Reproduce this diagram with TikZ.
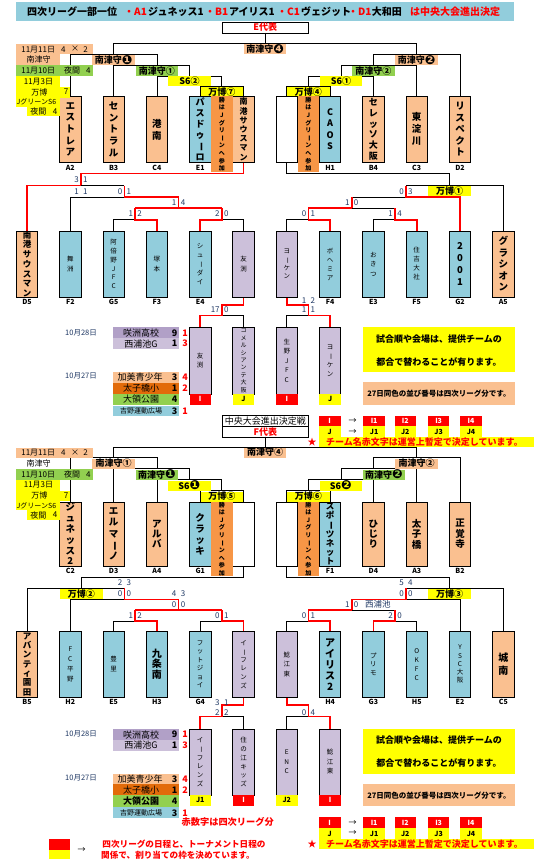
\documentclass[tikz,border=0pt]{standalone}
\usepackage{fontspec}
\usepackage{graphicx}
\setmainfont{Noto Sans CJK JP}
\newfontfamily\dv{DejaVu Sans}
\definecolor{peach}{HTML}{FAC090}
\definecolor{lblue}{HTML}{92CDDC}
\definecolor{lpurp}{HTML}{CCC0DA}
\definecolor{dpurp}{HTML}{B1A0C7}
\definecolor{orng}{HTML}{F79646}
\definecolor{dorng}{HTML}{E26B0A}
\definecolor{grn}{HTML}{92D050}
\definecolor{yel}{HTML}{FFFF00}
\definecolor{navy}{HTML}{1F3864}
\newcommand\fz[2]{\fontsize{#1}{#2}\selectfont}
\newcommand\vb{\rotatebox[origin=c]{-90}{ー}}
\newcommand\bn[1]{\raisebox{-0.4pt}{\dv\bfseries\fontsize{12.5}{9}\selectfont #1}}
\newcommand\tb[7]{\node[tm,fill=#5,minimum height=#4pt,font=#6] (#1) at (#2,#3) {#7};}
\newcommand\lb[5]{\node[lbl,fill=#4] (#1) at (#2,#3) {#5};}
\newcommand\sco[5]{\node[sc,anchor=east] (#1l) at (#2-2,#3) {#4};\node[sc,anchor=west] (#1r) at (#2+2,#3) {#5};}
\newcommand\tg[8]{\fill[#6] (#2,#4) rectangle (#3,#5); \node[tgt,text=#7] (#1) at ({(#2+#3)/2},{(#4+#5)/2}) {#8};}
\newcommand\topbracket[1]{%
 \draw[bk] (265.15,33) -- (265.15,43.5);
 \draw[bk] (113.6,54.3) -- (113.6,43.5) -- (416.7,43.5) -- (416.7,54.3);
 \draw[bk] (70.3,#1) -- (70.3,54.3) -- (156.9,54.3) -- (156.9,65.1);
 \draw[bk] (113.6,#1) -- (113.6,65.1) -- (189.4,65.1) -- (189.4,75.9);
 \draw[bk] (156.9,#1) -- (156.9,75.9) -- (221.85,75.9) -- (221.85,86.7);
 \draw[bk] (200.2,#1) -- (200.2,86.7) -- (243.5,86.7) -- (243.5,#1);
 \draw[bk] (460,#1) -- (460,54.3) -- (373.4,54.3) -- (373.4,65.1);
 \draw[bk] (416.7,#1) -- (416.7,65.1) -- (340.9,65.1) -- (340.9,75.9);
 \draw[bk] (373.4,#1) -- (373.4,75.9) -- (308.45,75.9) -- (308.45,86.7);
 \draw[bk] (330.1,#1) -- (330.1,86.7) -- (286.8,86.7) -- (286.8,#1);
}
\newcommand\datetable[2]{%
 \fill[peach] (16,44) rectangle (92.5,54.3);
 \node[dt] (#1d1) at (38.2,49.2) {11月11日};
 \node[dt] (#1d2) at (63.4,49.2) {4};
 \node[dt] (#1d3) at (75,49.2) {×};
 \node[dt] (#1d4) at (85.6,49.2) {2};
 \fill[#2] (16,54.3) rectangle (60,65.1);
 \node[dt] (#1d5) at (38.5,59.8) {南津守};
 \fill[grn] (16,65.1) rectangle (92.5,75.9);
 \node[dt] (#1d6) at (38.2,70.5) {11月10日};
 \node[dt] (#1d7) at (72,70.5) {夜間};
 \node[dt] (#1d8) at (88.4,70.5) {4};
 \fill[yel] (16,75.9) rectangle (60,86.7);
 \node[dt] (#1d9) at (38.5,81.3) {11月3日};
 \fill[yel] (16,86.7) rectangle (70,97.5);
 \node[dt] (#1d10) at (39.4,92.1) {万博};
 \node[dt] (#1d11) at (66,92.1) {7};
 \fill[yel] (16,97.5) rectangle (59.6,106.5);
 \node[dt,font=\fz{7}{7},anchor=west] (#1d12) at (16.5,102) {JグリーンS6};
 \fill[yel] (27,106.5) rectangle (59.6,116);
 \node[dt] (#1d13) at (38.5,111.2) {夜間};
 \node[dt] (#1d14) at (55,111.2) {4};
}
\newcommand\lowtable[2]{%
 \node[dtn] (#1w1) at (81,332.5) {10月28日};
 \fill[dpurp] (113,327.4) rectangle (178.8,338.4);
 \node[tt] (#1w2) at (141,332.9) {咲洲高校};
 \node[tn] (#1w3) at (174.6,332.9) {9};
 \node[tr] (#1w4) at (185,332.9) {1};
 \fill[lpurp] (113,338.4) rectangle (178.8,349);
 \node[tt] (#1w5) at (141,343.7) {西浦池G};
 \node[tn] (#1w6) at (174.6,343.7) {1};
 \node[tr] (#1w7) at (185,343.7) {3};
 \node[dtn] (#1w8) at (81,376) {10月27日};
 \fill[peach] (113,372) rectangle (178.8,382.5);
 \node[tt] (#1w9) at (140,377.2) {加美青少年};
 \node[tn] (#1w10) at (174.6,377.2) {3};
 \node[tr] (#1w11) at (185,377.2) {4};
 \fill[dorng] (113,382.5) rectangle (178.8,393.5);
 \node[tt] (#1w12) at (141,388) {太子橋小};
 \node[tn] (#1w13) at (174.6,388) {1};
 \node[tr] (#1w14) at (185,388) {2};
 \fill[grn] (113,393.5) rectangle (178.8,405);
 \node[tt,font=#2] (#1w15) at (141,399.2) {大領公園};
 \node[tn] (#1w16) at (174.6,399.2) {4};
 \fill[lblue] (113,405.5) rectangle (178.8,416.4);
 \node[tt,font=\fz{7}{7}] (#1w17) at (141,411) {吉野運動広場};
 \node[tn] (#1w18) at (174.6,411) {3};
 \node[tr] (#1w19) at (185,411) {1};
}
\newcommand\notesblock[1]{%
 \fill[yel] (363,327.4) rectangle (514.7,372);
 \node[nt] (#1n1) at (439,338.6) {試合順や会場は、提供チームの};
 \node[nt] (#1n2) at (439,361.5) {都合で替わることが有ります。};
 \fill[peach] (363,382) rectangle (514.7,404.5);
 \node[inner sep=0pt,font=\fz{7.5}{7.5}\bfseries] (#1n3) at (439,393.3) {27日同色の並び番号は四次リーグ分です。};
 \tg{#1ti}{318.5}{340.8}{415.5}{426.4}{red}{white}{I}
 \node[inner sep=0pt,font=\fz{8}{8}] (#1ar1) at (352.7,421) {→};
 \tg{#1ti1}{363}{385.3}{415.5}{426.4}{red}{white}{I1}
 \tg{#1ti2}{394.5}{416}{415.5}{426.4}{red}{white}{I2}
 \tg{#1ti3}{428}{449.3}{415.5}{426.4}{red}{white}{I3}
 \tg{#1ti4}{460}{482}{415.5}{426.4}{red}{white}{I4}
 \tg{#1tj}{318.5}{340.8}{426.4}{437}{yel}{black}{J}
 \node[inner sep=0pt,font=\fz{8}{8}] (#1ar2) at (352.7,431.7) {→};
 \tg{#1tj1}{363}{385.3}{426.4}{437}{yel}{black}{J1}
 \tg{#1tj2}{394.5}{416}{426.4}{437}{yel}{black}{J2}
 \tg{#1tj3}{428}{449.3}{426.4}{437}{yel}{black}{J3}
 \tg{#1tj4}{460}{482}{426.4}{437}{yel}{black}{J4}
 \fill[yel] (318.5,437) rectangle (534,447);
 \node[inner sep=0pt,font=\fz{9}{9}\bfseries,text=red] (#1star) at (312,442) {★};
 \node[inner sep=0pt,font=\fz{9}{9}\bfseries,text=red,anchor=west] (#1n4) at (326,442) {チーム名赤文字は運営上暫定で決定しています。};
}
\begin{document}
\begin{tikzpicture}[x=1pt,y=-1pt,
 bk/.style={line width=0.8pt,black},
 rd/.style={line width=1.7pt,red},
 tm/.style={draw,line width=0.8pt,inner sep=0pt,minimum width=21.4pt,align=center},
 lbl/.style={inner sep=0pt,minimum width=42.6pt,minimum height=10pt,font=\fz{9}{9}\bfseries},
 sc/.style={inner sep=0pt,font=\fz{8}{8},text=navy},
 cd/.style={inner sep=0pt,font=\fz{7}{7}\bfseries},
 dt/.style={inner sep=0pt,font=\fz{8}{8}},
 dtn/.style={inner sep=0pt,font=\fz{7.5}{7.5},text=navy},
 tt/.style={inner sep=0pt,font=\fz{9}{9}},
 tn/.style={inner sep=0pt,font=\fz{9}{9}\bfseries},
 tr/.style={inner sep=0pt,font=\fz{9}{9}\bfseries,text=red},
 hd/.style={inner sep=0pt,font=\fz{10}{10}\bfseries,anchor=west},
 nt/.style={inner sep=0pt,font=\fz{9}{9}\bfseries},
 tgt/.style={inner sep=0pt,font=\fz{7}{7}\bfseries},
 obar/.style={fill=orng,inner sep=0pt,minimum width=21.4pt,align=center,font=\fz{6}{7.6}\bfseries}]
\useasboundingbox (0,0) rectangle (537,859);
\fill[white] (0,0) rectangle (537,859);
% header
\fill[lblue] (16,2) rectangle (514,21);
\node[hd] (h1) at (27,11.5) {四次リーグ一部一位};
\node[hd,text=red] (h2) at (124,11.5) {・A1};
\node[hd] (h3) at (148,11.5) {ジュネッス1};
\node[hd,text=red] (h4) at (205,11.5) {・B1};
\node[hd] (h5) at (229,11.5) {アイリス1};
\node[hd,text=red] (h6) at (277,11.5) {・C1};
\node[hd] (h7) at (301,11.5) {ヴェジット};
\node[hd,text=red] (h8) at (348,11.5) {・D1};
\node[hd] (h9) at (371.6,11.5) {大和田};
\node[hd,text=red] (h10) at (410,11.5) {は中央大会進出決定};
% E box
\draw[bk] (222.3,22) rectangle (308.3,33);
\node[inner sep=0pt,font=\fz{9}{9}\bfseries,text=red] (ed) at (265.3,27.5) {E代表};
% ===== E lines
\topbracket{96.2}
\draw[rd] (243.5,162.6) -- (243.5,173.5) -- (81,173.5) -- (81,185.5) -- (27,185.5) -- (27,231);
\draw[bk] (81,185.5) -- (124.4,185.5);
\draw[bk] (70.3,231) -- (70.3,197) -- (124.4,197);
\draw[rd] (124.4,185.5) -- (124.4,197) -- (178.55,197) -- (178.55,208);
\draw[rd] (135.25,208) -- (221.85,208);
\draw[bk] (113.6,231) -- (113.6,219.7) -- (135.25,219.7);
\draw[rd] (135.25,208) -- (135.25,219.7) -- (156.9,219.7) -- (156.9,231);
\draw[bk] (221.85,219.7) -- (243.5,219.7) -- (243.5,231);
\draw[rd] (221.85,208) -- (221.85,219.7) -- (200.2,219.7) -- (200.2,231);
\draw[bk] (286.8,162.6) -- (286.8,173.5) -- (449,173.5) -- (449,185.5);
\draw[bk] (405.9,185.5) -- (503.3,185.5) -- (503.3,231);
\draw[bk] (351.75,197) -- (405.9,197);
\draw[rd] (405.9,185.5) -- (405.9,197) -- (460,197) -- (460,231);
\draw[rd] (351.75,197) -- (351.75,208);
\draw[bk] (351.75,208) -- (395.05,208);
\draw[rd] (308.45,208) -- (351.75,208);
\draw[bk] (286.8,231) -- (286.8,219.7) -- (308.45,219.7);
\draw[rd] (308.45,208) -- (308.45,219.7) -- (330.1,219.7) -- (330.1,231);
\draw[bk] (373.4,231) -- (373.4,219.7) -- (395.05,219.7);
\draw[rd] (395.05,208) -- (395.05,219.7) -- (416.7,219.7) -- (416.7,231);
\draw[bk] (221.85,315.4) -- (243.5,315.4) -- (243.5,327.4);
\draw[rd] (243.5,297) -- (243.5,305) -- (221.85,305) -- (221.85,315.4) -- (200.2,315.4) -- (200.2,327.4);
\draw[bk] (308.45,315.4) -- (286.8,315.4) -- (286.8,327.4);
\draw[rd] (286.8,297) -- (286.8,305) -- (308.45,305) -- (308.45,315.4) -- (330.1,315.4) -- (330.1,327.4);
% ===== F lines
\begin{scope}[shift={(0,403.5)}]\topbracket{98.5}\end{scope}
\draw[bk] (243.5,566) -- (243.5,577) -- (81,577) -- (81,588.4);
\draw[bk] (27,631.5) -- (27,588.4) -- (124.4,588.4);
\draw[bk] (70.3,631.5) -- (70.3,599.4) -- (124.4,599.4);
\draw[rd] (124.4,588.4) -- (124.4,599.4) -- (178.55,599.4) -- (178.55,610.2);
\draw[rd] (135.25,610.2) -- (221.85,610.2);
\draw[bk] (113.6,631.5) -- (113.6,621) -- (135.25,621);
\draw[rd] (135.25,610.2) -- (135.25,621) -- (156.9,621) -- (156.9,631.5);
\draw[bk] (200.2,631.5) -- (200.2,621) -- (221.85,621);
\draw[rd] (221.85,610.2) -- (221.85,621) -- (243.5,621) -- (243.5,631.5);
\draw[bk] (286.8,566) -- (286.8,577) -- (449,577) -- (449,588.4);
\draw[bk] (503.3,631.5) -- (503.3,588.4) -- (405.9,588.4);
\draw[bk] (405.9,599.4) -- (460,599.4) -- (460,631.5);
\draw[rd] (405.9,588.4) -- (405.9,599.4) -- (351.75,599.4) -- (351.75,610.2);
\draw[bk] (351.75,610.2) -- (395.05,610.2);
\draw[rd] (308.45,610.2) -- (351.75,610.2);
\draw[bk] (286.8,631.5) -- (286.8,621) -- (308.45,621);
\draw[rd] (308.45,610.2) -- (308.45,621) -- (330.1,621) -- (330.1,631.5);
\draw[bk] (395.05,621) -- (416.7,621) -- (416.7,631.5);
\draw[rd] (395.05,610.2) -- (395.05,621) -- (373.4,621) -- (373.4,631.5);
\draw[bk] (221.85,716.4) -- (243.5,716.4) -- (243.5,729);
\draw[rd] (243.5,697) -- (243.5,705) -- (221.85,705) -- (221.85,716.4) -- (200.2,716.4) -- (200.2,729);
\draw[bk] (308.45,716.4) -- (286.8,716.4) -- (286.8,729);
\draw[rd] (286.8,697) -- (286.8,705) -- (308.45,705) -- (308.45,716.4) -- (330.1,716.4) -- (330.1,729);
% ===== E labels
\lb{el1}{265.15}{49}{peach}{南津守\bn{❹}}
\lb{el2}{113.6}{59.8}{peach}{南津守\bn{❶}}
\lb{el3}{416.7}{59.8}{peach}{南津守\bn{❷}}
\lb{el4}{156.9}{70.6}{grn}{南津守①}
\lb{el5}{373.4}{70.6}{grn}{南津守②}
\lb{el6}{189.4}{81.4}{yel}{S6②}
\lb{el7}{340.9}{81.4}{yel}{S6①}
\lb{el8}{221.85}{91.6}{yel}{万博⑦}
\lb{el9}{308.45}{91.6}{yel}{万博④}
\lb{el10}{449.5}{191.3}{yel}{万博①}
% ===== F labels
\lb{fl1}{265.15}{452.5}{peach}{南津守④}
\lb{fl2}{113.6}{463.5}{peach}{南津守①}
\lb{fl3}{416.7}{463.5}{peach}{南津守②}
\lb{fl4}{156.9}{474.5}{grn}{南津守\bn{❶}}
\lb{fl5}{384}{474.5}{grn}{南津守\bn{❷}}
\lb{fl6}{189.4}{485.5}{yel}{S6\bn{❶}}
\lb{fl7}{340.9}{485.5}{yel}{S6\bn{❷}}
\lb{fl8}{221.85}{496.5}{yel}{万博⑤}
\lb{fl9}{308.45}{496.5}{yel}{万博⑥}
\lb{fl10}{81.3}{594}{yel}{万博②}
\lb{fl11}{449.5}{594}{yel}{万博③}
% ===== E top row boxes
\tb{a2}{70.3}{129.4}{66.4}{peach}{\fz{9.5}{11.55}\bfseries}{エ\\ス\\ト\\レ\\ア}
\tb{b3}{113.6}{129.4}{66.4}{peach}{\fz{9.5}{11.55}\bfseries}{セ\\ン\\ト\\ラ\\ル}
\tb{c4}{156.9}{129.4}{66.4}{peach}{\fz{9.5}{12}\bfseries}{港\\南}
\tb{e1}{200.2}{129.4}{66.4}{lblue}{\fz{9}{11}\bfseries}{パ\\ス\\ド\\ゥ\\\vb\\ロ}
\tb{sm1}{243.5}{129.4}{66.4}{peach}{\fz{8}{9.2}\bfseries}{南\\港\\サ\\ウ\\ス\\マ\\ン}
\tb{ew}{286.8}{129.4}{66.4}{white}{}{}
\tb{h1b}{330.1}{129.4}{66.4}{lblue}{\fz{9}{11.5}\bfseries}{C\\A\\O\\S}
\tb{b4}{373.4}{129.4}{66.4}{peach}{\fz{9}{10.7}\bfseries}{セ\\レ\\ッ\\ソ\\大\\阪}
\tb{c3}{416.7}{129.4}{66.4}{peach}{\fz{9.5}{12}\bfseries}{東\\淀\\川}
\tb{d2}{460}{129.4}{66.4}{peach}{\fz{9.5}{11.55}\bfseries}{リ\\ス\\ペ\\ク\\ト}
\node[obar,minimum height=76pt] (eob1) at (221.85,134.2) {勝\\は\\J\\グ\\リ\\\vb\\ン\\へ\\参\\加};
\node[obar,minimum height=76pt] (eob2) at (308.45,134.2) {勝\\は\\J\\グ\\リ\\\vb\\ン\\へ\\参\\加};
\node[cd] (la2) at (70.3,168) {A2};
\node[cd] (lb3) at (113.6,168) {B3};
\node[cd] (lc4) at (156.9,168) {C4};
\node[cd] (le1) at (200.2,168) {E1};
\node[cd] (lh1) at (330.1,168) {H1};
\node[cd] (lb4) at (373.4,168) {B4};
\node[cd] (lc3) at (416.7,168) {C3};
\node[cd] (ld2) at (460,168) {D2};
% ===== E lower row
\tb{d5}{27}{264}{66}{peach}{\fz{8.5}{9.7}\bfseries}{南\\港\\サ\\ウ\\ス\\マ\\ン}
\tb{f2}{70.3}{264}{66}{lblue}{\fz{6.5}{10.5}}{舞\\洲}
\tb{g5}{113.6}{264}{66}{lblue}{\fz{6.5}{8.9}}{阿\\倍\\野\\J\\F\\C}
\tb{f3}{156.9}{264}{66}{lblue}{\fz{6.5}{10.5}}{塚\\本}
\tb{e4}{200.2}{264}{66}{lblue}{\fz{6.5}{9}}{シ\\ュ\\\vb\\ダ\\イ}
\tb{tm1}{243.5}{264}{66}{lpurp}{\fz{6.5}{10.5}}{友\\渕}
\tb{yk1}{286.8}{264}{66}{lpurp}{\fz{6.5}{8.5}}{ヨ\\\vb\\ケ\\ン}
\tb{f4}{330.1}{264}{66}{lblue}{\fz{6.5}{9}}{ボ\\ヘ\\ミ\\ア}
\tb{e3}{373.4}{264}{66}{lblue}{\fz{6.5}{9.5}}{お\\き\\つ}
\tb{f5}{416.7}{264}{66}{lblue}{\fz{6.5}{9}}{住\\吉\\大\\社}
\tb{g2}{460}{264}{66}{lblue}{\fz{9.5}{11.7}\bfseries}{2\\0\\0\\1}
\tb{a5}{503.3}{264}{66}{peach}{\fz{9.5}{11.5}\bfseries}{グ\\ラ\\シ\\オ\\ン}
\node[cd] (ld5) at (27,301.5) {D5};
\node[cd] (lf2) at (70.3,301.5) {F2};
\node[cd] (lg5) at (113.6,301.5) {G5};
\node[cd] (lf3) at (156.9,301.5) {F3};
\node[cd] (le4) at (200.2,301.5) {E4};
\node[cd] (lf4) at (330.1,301.5) {F4};
\node[cd] (le3) at (373.4,301.5) {E3};
\node[cd] (lf5) at (416.7,301.5) {F5};
\node[cd] (lg2) at (460,301.5) {G2};
\node[cd] (la5) at (503.3,301.5) {A5};
% E I/J
\tb{tm2}{200.2}{360.7}{66.6}{lpurp}{\fz{6.5}{9.6}}{友\\渕}
\tb{cm}{243.5}{360.7}{66.6}{lpurp}{\fz{6}{7.4}}{コ\\メ\\ル\\シ\\ア\\ン\\テ\\大\\阪}
\tb{ik}{286.8}{360.7}{66.6}{lpurp}{\fz{6.5}{9.5}}{生\\野\\J\\F\\C}
\tb{yk2}{330.1}{360.7}{66.6}{lpurp}{\fz{6.5}{9.2}}{ヨ\\\vb\\ケ\\ン}
\tg{et1}{189.5}{210.9}{394}{404.5}{red}{white}{I}
\tg{et2}{232.8}{254.2}{394}{404.5}{yel}{black}{J}
\tg{et3}{276.1}{297.5}{394}{404.5}{red}{white}{I}
\tg{et4}{319.4}{340.8}{394}{404.5}{yel}{black}{J}
% ===== F top row
\tb{c2}{70.3}{534}{64}{peach}{\fz{9.5}{10.8}\bfseries}{ジ\\ュ\\ネ\\ッ\\ス\\2}
\tb{d3}{113.6}{534}{64}{peach}{\fz{9.5}{11.25}\bfseries}{エ\\ル\\マ\\\vb\\ノ}
\tb{a4}{156.9}{534}{64}{peach}{\fz{9.5}{10.3}\bfseries}{ア\\ル\\バ}
\tb{g1}{200.2}{534}{64}{lblue}{\fz{9.5}{10.9}\bfseries}{ク\\ラ\\ッ\\キ}
\tb{fw1}{243.5}{534}{64}{white}{}{}
\tb{fw2}{286.8}{534}{64}{white}{}{}
\tb{f1}{330.1}{534}{64}{lblue}{\fz{8.5}{9.3}\bfseries}{ス\\ポ\\\vb\\ツ\\ネ\\ッ\\ト}
\tb{d4}{373.4}{534}{64}{peach}{\fz{9.5}{10}\bfseries}{ひ\\じ\\り}
\tb{a3}{416.7}{534}{64}{peach}{\fz{9.5}{10.5}\bfseries}{太\\子\\橋}
\tb{b2}{460}{534}{64}{peach}{\fz{9.5}{10.5}\bfseries}{正\\覚\\寺}
\node[obar,minimum height=74pt] (fob1) at (221.85,539) {勝\\は\\J\\グ\\リ\\\vb\\ン\\へ\\参\\加};
\node[obar,minimum height=74pt] (fob2) at (308.45,539) {勝\\は\\J\\グ\\リ\\\vb\\ン\\へ\\参\\加};
\node[cd] (lc2) at (70.3,571) {C2};
\node[cd] (ld3) at (113.6,571) {D3};
\node[cd] (la4) at (156.9,571) {A4};
\node[cd] (lg1) at (200.2,571) {G1};
\node[cd] (lf1) at (330.1,571) {F1};
\node[cd] (ld4) at (373.4,571) {D4};
\node[cd] (la3) at (416.7,571) {A3};
\node[cd] (lb2) at (460,571) {B2};
% ===== F lower row
\tb{b5}{27}{664.25}{65.5}{peach}{\fz{8.5}{9.3}\bfseries}{ア\\バ\\ン\\テ\\ィ\\園\\田}
\tb{h2}{70.3}{664.25}{65.5}{lblue}{\fz{6.5}{9.8}}{F\\C\\平\\野}
\tb{e5}{113.6}{664.25}{65.5}{lblue}{\fz{6.5}{10}}{豊\\里}
\tb{h3}{156.9}{664.25}{65.5}{lblue}{\fz{10}{10.3}\bfseries}{九\\条\\南}
\tb{g4}{200.2}{664.25}{65.5}{lblue}{\fz{6.5}{8.5}}{フ\\ッ\\ト\\ジ\\ョ\\イ}
\tb{if1}{243.5}{664.25}{65.5}{lpurp}{\fz{6.5}{8.6}}{イ\\\vb\\フ\\レ\\ン\\ズ}
\tb{nz1}{286.8}{664.25}{65.5}{lpurp}{\fz{6.5}{9.4}}{鯰\\江\\東}
\tb{h4}{330.1}{664.25}{65.5}{lblue}{\fz{10}{11}\bfseries}{ア\\イ\\リ\\ス\\2}
\tb{g3}{373.4}{664.25}{65.5}{lblue}{\fz{6.5}{8.5}}{プ\\リ\\モ}
\tb{h5}{416.7}{664.25}{65.5}{lblue}{\fz{6.5}{9}}{O\\K\\F\\C}
\tb{e2}{460}{664.25}{65.5}{lblue}{\fz{6.5}{8.2}}{Y\\S\\C\\大\\阪}
\tb{c5}{503.3}{664.25}{65.5}{peach}{\fz{10}{13.5}\bfseries}{城\\南}
\node[cd] (lb5) at (27,702) {B5};
\node[cd] (lh2) at (70.3,702) {H2};
\node[cd] (le5) at (113.6,702) {E5};
\node[cd] (lh3) at (156.9,702) {H3};
\node[cd] (lg4) at (200.2,702) {G4};
\node[cd] (lh4) at (330.1,702) {H4};
\node[cd] (lg3) at (373.4,702) {G3};
\node[cd] (lh5) at (416.7,702) {H5};
\node[cd] (le2) at (460,702) {E2};
\node[cd] (lc5) at (503.3,702) {C5};
% F I/J
\tb{if2}{200.2}{762}{66}{lpurp}{\fz{6.5}{8.8}}{イ\\\vb\\フ\\レ\\ン\\ズ}
\tb{sk}{243.5}{762}{66}{lpurp}{\fz{6.5}{8.8}}{住\\の\\江\\キ\\ッ\\ズ}
\tb{enc}{286.8}{762}{66}{lpurp}{\fz{6.5}{9.5}}{E\\N\\C}
\tb{nz2}{330.1}{762}{66}{lpurp}{\fz{6.5}{9.5}}{鯰\\江\\東}
\tg{ft1}{189.5}{210.9}{795}{805.5}{yel}{black}{J1}
\tg{ft2}{232.8}{254.2}{795}{805.5}{red}{white}{I}
\tg{ft3}{276.1}{297.5}{795}{805.5}{yel}{black}{J2}
\tg{ft4}{319.4}{340.8}{795}{805.5}{red}{white}{I}
% ===== date tables
\datetable{e}{peach}
\begin{scope}[shift={(0,403.8)}]\datetable{f}{white}\end{scope}
% ===== scores E
\sco{s1}{81}{180}{3}{1}
\sco{s2}{81}{191.3}{1}{1}
\sco{s3}{124.4}{191.3}{0}{1}
\sco{s4}{405.9}{191.3}{0}{3}
\sco{s5}{178.55}{202.7}{1}{4}
\sco{s6}{351.75}{202.7}{1}{0}
\sco{s7}{135.25}{214}{1}{2}
\sco{s8}{221.85}{214}{2}{0}
\sco{s9}{308.45}{214}{0}{1}
\sco{s10}{395.05}{214}{1}{4}
\sco{s11}{308.45}{301}{1}{2}
\sco{s12}{221.85}{310}{17}{0}
\sco{s13}{308.45}{310}{1}{1}
% ===== scores F
\sco{t1}{124.4}{582.5}{2}{3}
\sco{t2}{405.9}{582.5}{5}{4}
\sco{t3}{124.4}{593.5}{0}{0}
\sco{t4}{178.55}{593.5}{4}{3}
\sco{t5}{405.9}{593.5}{0}{0}
\sco{t6}{178.55}{604.5}{0}{0}
\sco{t7}{351.75}{604.5}{1}{0}
\node[sc,anchor=west,font=\fz{8.5}{8.5}] (nsh) at (365,604.5) {西浦池};
\sco{t8}{135.25}{615.5}{1}{2}
\sco{t9}{221.85}{615.5}{0}{1}
\sco{t10}{308.45}{615.5}{0}{1}
\sco{t11}{395.05}{615.5}{2}{0}
\sco{t12}{221.85}{702.7}{3}{1}
\sco{t13}{221.85}{713}{2}{2}
\sco{t14}{308.45}{713}{0}{4}
% ===== lower tables & notes
\lowtable{e}{\fz{9}{9}}
\begin{scope}[shift={(0,401.8)}]\lowtable{f}{\fz{9}{9}\bfseries}\end{scope}
\notesblock{e}
\begin{scope}[shift={(0,401.8)}]\notesblock{f}\end{scope}
% middle box
\draw[bk] (222.3,415.5) rectangle (308.3,437);
\draw[bk] (222.3,426.4) -- (308.3,426.4);
\node[inner sep=0pt,font=\fz{9}{9}] (mc1) at (265.3,421) {中央大会進出決定戦};
\node[inner sep=0pt,font=\fz{9}{9}\bfseries,text=red] (mc2) at (265.3,431.7) {F代表};
% bottom notes
\node[inner sep=0pt,font=\fz{9.2}{9.2}\bfseries,text=red] (rnote) at (227.7,821.6) {赤数字は四次リーグ分};
\fill[red] (49,838.7) rectangle (70.2,849.7);
\fill[yel] (49,849.7) rectangle (70.2,859);
\node[inner sep=0pt,font=\fz{8}{8}] (lgar) at (81.5,849.7) {→};
\node[inner sep=0pt,font=\fz{8.6}{8.6}\bfseries,text=red] (lg1) at (184,843.8) {四次リーグの日程と、トーナメント日程の};
\node[inner sep=0pt,font=\fz{8.6}{8.6}\bfseries,text=red] (lg2) at (178,854.8) {関係で、割り当ての枠を決めています。};
\end{tikzpicture}
\end{document}
